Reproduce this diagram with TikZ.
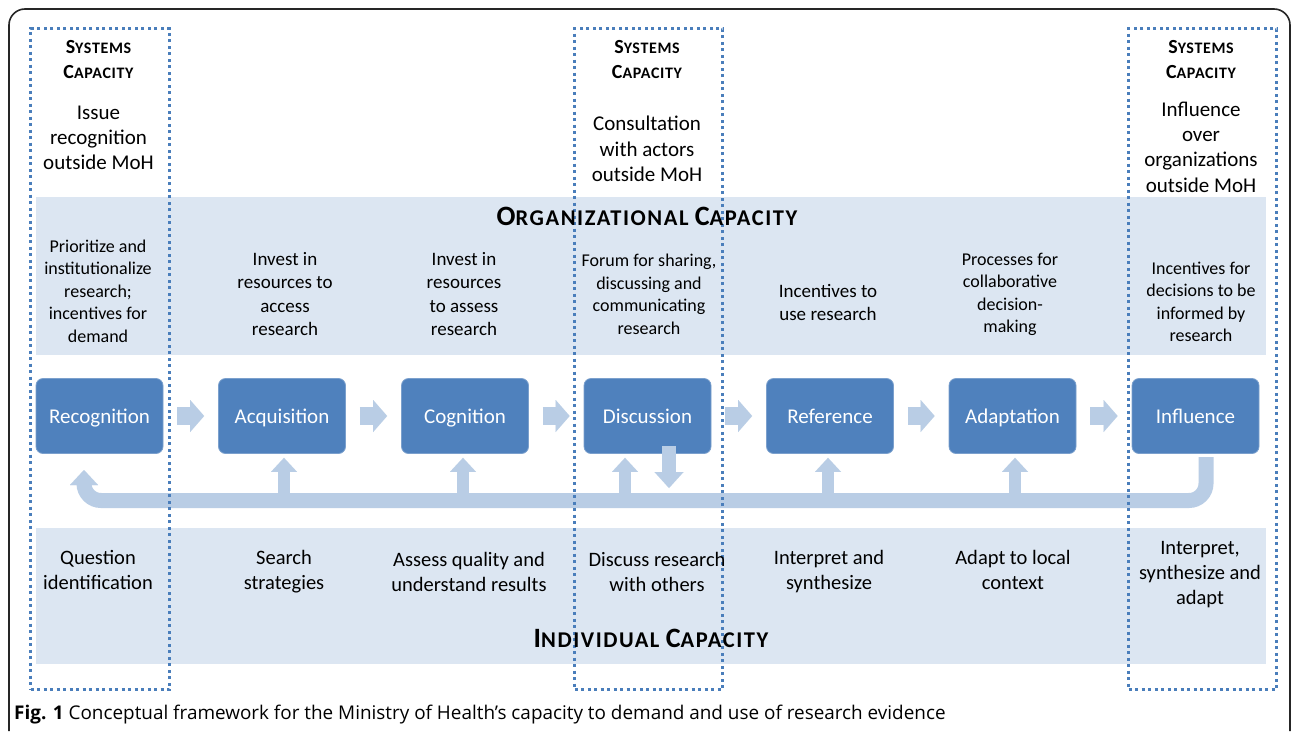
\documentclass[tikz,border=0pt]{standalone}
\usepackage{fontspec}
\setmainfont{Carlito}
\newfontfamily\capfont{Open Sans}
\usetikzlibrary{arrows.meta,calc}
\definecolor{boxblue}{HTML}{4F81BD}
\definecolor{arrowblue}{HTML}{B9CDE5}
\definecolor{bandblue}{HTML}{DCE6F2}
\definecolor{dotblue}{HTML}{4A7EBB}
\newcommand{\myfs}[2]{\fontsize{#1pt}{#2pt}\selectfont}
\newcommand{\mysc}[5]{{\myfs{#1}{#1}\addfontfeature{LetterSpace=#5}#3}{\myfs{#2}{#2}\addfontfeature{LetterSpace=#5}#4}}
\tikzset{
  band/.style={fill=bandblue, inner sep=0pt, anchor=north west},
  dotbox/.style={draw=dotblue, line width=3pt, dash pattern=on 3pt off 3.5pt, inner sep=0pt, anchor=north west},
  procbox/.style={fill=boxblue, draw=boxblue!75!white, line width=0.8pt, rounded corners=7pt,
    minimum width=127pt, minimum height=75pt, text=white, font=\myfs{21}{25}, inner sep=0pt,
    text height=17pt, text depth=3pt},
  systxt/.style={align=center, font=\myfs{21}{25.3}, inner sep=0pt},
  syshead/.style={align=center, font=\bfseries\myfs{20}{25}, inner sep=0pt},
  orgtxt/.style={align=center, font=\myfs{18}{22.5}, inner sep=0pt},
  orgtxtb/.style={align=center, font=\myfs{19}{23.5}, inner sep=0pt},
  indtxt/.style={align=center, font=\myfs{20.5}{25}, inner sep=0pt},
  bighead/.style={font=\bfseries\myfs{28}{30}, inner sep=0pt},
  rarrow/.style={draw=arrowblue, line width=18pt, -{Triangle[length=14pt,width=32pt,line width=0.01pt]}},
  uarrow/.style={draw=arrowblue, line width=12pt, -{Triangle[length=14pt,width=26pt,line width=0.01pt]}},
  darrow/.style={draw=arrowblue, line width=14pt, -{Triangle[length=16pt,width=29pt,line width=0.01pt]}},
  fbarrow/.style={draw=arrowblue, line width=15pt, rounded corners=17pt, -{Triangle[length=15pt,width=28pt,line width=0.01pt]}},
}
\begin{document}
\begin{tikzpicture}[x=1pt,y=-1pt]
\useasboundingbox (0,0) rectangle (1292,731);
\fill[white] (0,0) rectangle (1292,731);
% outer frame
\draw[line width=1.6pt, black!85] (9,731) [rounded corners=16pt] -- (9,9) -- (1290,9) -- (1290,731);

% bands
\node[band, minimum width=1230pt, minimum height=158pt] (orgband) at (36,197) {};
\node[band, minimum width=1230pt, minimum height=136pt] (indband) at (36,528) {};

% process boxes
\node[procbox] (rec) at (99.5,416) {Recognition};
\node[procbox] (acq) at (282,416) {Acquisition};
\node[procbox] (cog) at (465,416) {Cognition};
\node[procbox] (dis) at (647.5,416) {Discussion};
\node[procbox] (ref) at (830,416) {Reference};
\node[procbox] (ada) at (1012.5,416) {Adaptation};
\node[procbox] (inf) at (1195.5,416) {Influence};

% forward arrows
\draw[rarrow] ([xshift=14pt]rec.east) -- ([xshift=-14pt]acq.west);
\draw[rarrow] ([xshift=14pt]acq.east) -- ([xshift=-14pt]cog.west);
\draw[rarrow] ([xshift=14pt]cog.east) -- ([xshift=-14pt]dis.west);
\draw[rarrow] ([xshift=14pt]dis.east) -- ([xshift=-14pt]ref.west);
\draw[rarrow] ([xshift=14pt]ref.east) -- ([xshift=-14pt]ada.west);
\draw[rarrow] ([xshift=14pt]ada.east) -- ([xshift=-14pt]inf.west);

% feedback loop
\coordinate (fbR) at (1206,457);
\coordinate (fbRc) at (1206,500.5);
\coordinate (fbLc) at (84,500.5);
\coordinate (fbL) at (84,470);
\draw[fbarrow] (fbR) -- (fbRc) -- (fbLc) -- (fbL);

% up arrows from loop
\coordinate (bartop) at (0,494);
\draw[uarrow] ([xshift=2pt]acq.south |- bartop) -- ([xshift=2pt,yshift=-4pt]acq.south);
\draw[uarrow] ([xshift=-2pt]cog.south |- bartop) -- ([xshift=-2pt,yshift=-4pt]cog.south);
\draw[uarrow] ([xshift=-22.5pt]dis.south |- bartop) -- ([xshift=-22.5pt,yshift=-4pt]dis.south);
\draw[uarrow] ([xshift=-2pt]ref.south |- bartop) -- ([xshift=-2pt,yshift=-4pt]ref.south);
\draw[uarrow] ([xshift=2.5pt]ada.south |- bartop) -- ([xshift=2.5pt,yshift=-4pt]ada.south);
% down arrow from discussion
\coordinate (dtip) at (669,488);
\draw[darrow] ([xshift=21.5pt,yshift=8pt]dis.south) -- (dtip);

% dotted systems boxes
\node[dotbox, minimum width=139pt, minimum height=661pt] (sysL) at (29,27) {};
\node[dotbox, minimum width=148pt, minimum height=661pt] (sysM) at (573,27) {};
\node[dotbox, minimum width=148pt, minimum height=661pt] (sysR) at (1127,27) {};

% systems texts
\node[syshead] (shL) at (98.5,59.5) {\mysc{20}{16}{S}{YSTEMS}{4}\\\mysc{20}{16}{C}{APACITY}{4}};
\node[syshead] (shM) at (647,59.5) {\mysc{20}{16}{S}{YSTEMS}{4}\\\mysc{20}{16}{C}{APACITY}{4}};
\node[syshead] (shR) at (1201,59.5) {\mysc{20}{16}{S}{YSTEMS}{4}\\\mysc{20}{16}{C}{APACITY}{4}};
\node[systxt] (stL) at (98.5,138) {Issue\\recognition\\outside MoH};
\node[systxt] (stM) at (647,149) {Consultation\\with actors\\outside MoH};
\node[systxt] (stR) at (1201,147) {Influence\\over\\organizations\\outside MoH};

% organizational capacity
\node[bighead] (orghead) at (647,216) {\mysc{28}{22.5}{O}{RGANIZATIONAL}{7} \mysc{28}{22.5}{C}{APACITY}{7}};
\node[orgtxt] (o1) at (98,291) {Prioritize and\\institutionalize\\research;\\incentives for\\demand};
\node[orgtxtb] (o2) at (285,294) {Invest in\\resources to\\access\\research};
\node[orgtxtb] (o3) at (464,294) {Invest in\\resources\\to assess\\research};
\node[orgtxt] (o4) at (649,294.5) {Forum for sharing,\\discussing and\\communicating\\research};
\node[orgtxtb] (o5) at (828,302.5) {Incentives to\\use research};
\node[orgtxt] (o6) at (1010,294.5) {Processes for\\collaborative\\decision-\\making};
\node[orgtxt] (o7) at (1201,302) {Incentives for\\decisions to be\\informed by\\research};

% individual capacity
\node[indtxt] (i1) at (98,569.5) {Question\\identification};
\node[indtxt] (i2) at (284,571.5) {Search\\strategies};
\node[indtxt] (i3) at (469,571.5) {Assess quality and\\understand results};
\node[indtxt] (i4) at (657,571.5) {Discuss research\\with others};
\node[indtxt] (i5) at (829,571.5) {Interpret and\\synthesize};
\node[indtxt] (i6) at (1013,569.5) {Adapt to local\\context};
\node[indtxt] (i7) at (1200,575) {Interpret,\\synthesize and\\adapt};
\node[bighead] (indhead) at (651,638) {\mysc{28}{22.5}{I}{NDIVIDUAL}{7} \mysc{28}{22.5}{C}{APACITY}{7}};

% caption
\node[anchor=west, inner sep=0pt, font=\capfont\myfs{18.9}{22}] (cap) at (14,715)
  {\textbf{Fig. 1} Conceptual framework for the Ministry of Health’s capacity to demand and use of research evidence};
\end{tikzpicture}
\end{document}
